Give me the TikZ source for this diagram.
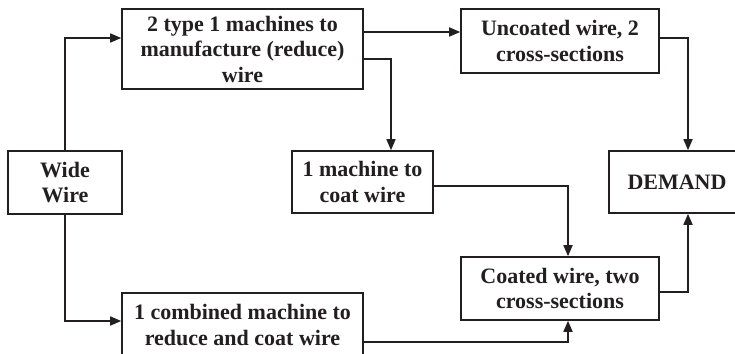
\documentclass[tikz,border=0pt]{standalone}
\usepackage{fontspec}
\setmainfont{Liberation Serif}
\usetikzlibrary{arrows.meta,calc}
\definecolor{ink}{HTML}{231F20}
\begin{document}
\begin{tikzpicture}[x=1pt,y=1pt,
  box/.style={draw=ink,line width=1.6pt,fill=white,inner sep=0pt,align=center,
    font=\fontsize{22}{25.5}\selectfont\bfseries,text=ink},
  arr/.style={draw=ink,line width=1.6pt,-{Triangle[length=11pt,width=9pt]}}]
\useasboundingbox (0,0) rectangle (735,353);
\fill[white] (0,0) rectangle (735,353);
\clip (0,0) rectangle (735,353);

% process boxes
\node[box,minimum width=241pt,minimum height=80pt] (M1) at (242.5,304)
  {2 type 1 machines to\\manufacture (reduce)\\wire};
\node[box,minimum width=114pt,minimum height=63pt] (WW) at (65,170.5) {Wide\\Wire};
\node[box,minimum width=198pt,minimum height=64pt] (U) at (560,312)
  {Uncoated wire, 2\\cross-sections};
\node[box,minimum width=141pt,minimum height=62pt] (C1) at (362.5,171)
  {1 machine to\\coat wire};
\node[box,minimum width=136pt,minimum height=62pt] (D) at (677,171) {DEMAND};
\node[box,minimum width=198pt,minimum height=63pt] (CW) at (560,64.5)
  {Coated wire, two\\cross-sections};
\node[box,minimum width=241pt,minimum height=64pt] (CM) at (242.5,28)
  {1 combined machine to\\reduce and coat wire};

% flows
\draw[arr] (WW.north) |- ([yshift=11pt]M1.west);
\draw[arr] ([yshift=17pt]M1.east) -- ([yshift=17pt]M1.east -| U.west);
\draw[arr] ([yshift=-10pt]M1.east) -| ([xshift=28.5pt]C1.north);
\draw[arr] ([yshift=3pt]U.east) -| ([xshift=11pt]D.north);
\draw[arr] ([yshift=-4pt]C1.east) -| ([xshift=8pt]CW.north);
\draw[arr] ([yshift=-3.5pt]CW.east) -| ([xshift=11pt]D.south);
\draw[arr] (WW.south) |- ([yshift=4pt]CM.west);
\draw[arr] ([yshift=-17pt]CM.east) -| ([xshift=8pt]CW.south);
\end{tikzpicture}
\end{document}
